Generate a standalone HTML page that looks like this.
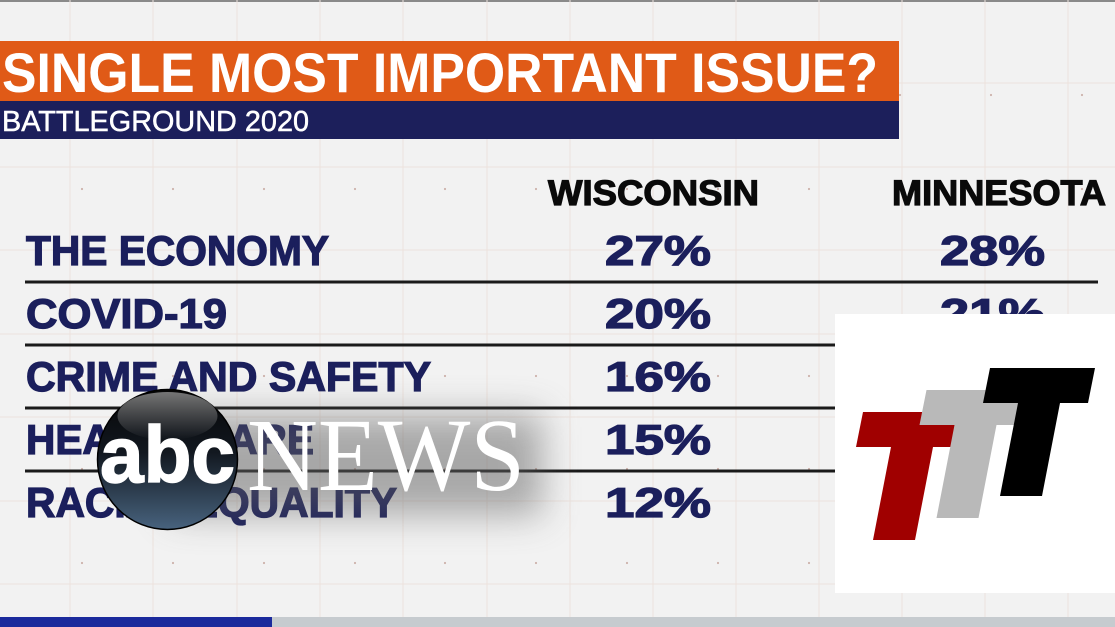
<!DOCTYPE html>
<html>
<head>
<meta charset="utf-8">
<style>
html,body{margin:0;padding:0;background:#f2f2f2;}
svg{display:block;}
</style>
</head>
<body>
<svg width="1115" height="627" viewBox="0 0 1115 627" xmlns="http://www.w3.org/2000/svg">
  <defs>
    <filter id="blur" x="-50%" y="-50%" width="200%" height="200%">
      <feGaussianBlur stdDeviation="18"/>
    </filter>
    <linearGradient id="ball" x1="0" y1="0" x2="0" y2="1">
      <stop offset="0" stop-color="#050505"/>
      <stop offset="0.45" stop-color="#121820"/>
      <stop offset="1" stop-color="#48637e"/>
    </linearGradient>
    <linearGradient id="gloss" x1="0" y1="0" x2="0" y2="1">
      <stop offset="0" stop-color="#ffffff" stop-opacity="0.45"/>
      <stop offset="1" stop-color="#ffffff" stop-opacity="0"/>
    </linearGradient>
  </defs>

  <!-- background -->
  <rect x="0" y="0" width="1115" height="627" fill="#f2f2f2"/>
  <rect x="0" y="0" width="1115" height="2" fill="#8a8a8a"/>

  <!-- grid -->
  <g stroke="#ece2dd" stroke-width="1">
    <line x1="70" y1="0" x2="70" y2="617"/>
    <line x1="153" y1="0" x2="153" y2="617"/>
    <line x1="237" y1="0" x2="237" y2="617"/>
    <line x1="320" y1="0" x2="320" y2="617"/>
    <line x1="403" y1="0" x2="403" y2="617"/>
    <line x1="487" y1="0" x2="487" y2="617"/>
    <line x1="570" y1="0" x2="570" y2="617"/>
    <line x1="653" y1="0" x2="653" y2="617"/>
    <line x1="736" y1="0" x2="736" y2="617"/>
    <line x1="819" y1="0" x2="819" y2="617"/>
    <line x1="902" y1="0" x2="902" y2="617"/>
    <line x1="985" y1="0" x2="985" y2="617"/>
    <line x1="1068" y1="0" x2="1068" y2="617"/>
    <line x1="0" y1="83" x2="1115" y2="83"/>
    <line x1="0" y1="167" x2="1115" y2="167"/>
    <line x1="0" y1="250" x2="1115" y2="250"/>
    <line x1="0" y1="334" x2="1115" y2="334"/>
    <line x1="0" y1="417" x2="1115" y2="417"/>
    <line x1="0" y1="501" x2="1115" y2="501"/>
    <line x1="0" y1="584" x2="1115" y2="584"/>
  </g>
  <g fill="#cdb3ac">
    <circle cx="82" cy="95" r="1.1"/><circle cx="173" cy="95" r="1.1"/><circle cx="264" cy="95" r="1.1"/><circle cx="355" cy="95" r="1.1"/><circle cx="445" cy="95" r="1.1"/><circle cx="536" cy="95" r="1.1"/><circle cx="627" cy="95" r="1.1"/><circle cx="718" cy="95" r="1.1"/><circle cx="809" cy="95" r="1.1"/><circle cx="900" cy="95" r="1.1"/><circle cx="991" cy="95" r="1.1"/><circle cx="1082" cy="95" r="1.1"/>
    <circle cx="82" cy="189" r="1.1"/><circle cx="173" cy="189" r="1.1"/><circle cx="264" cy="189" r="1.1"/><circle cx="355" cy="189" r="1.1"/><circle cx="445" cy="189" r="1.1"/><circle cx="536" cy="189" r="1.1"/><circle cx="627" cy="189" r="1.1"/><circle cx="718" cy="189" r="1.1"/><circle cx="809" cy="189" r="1.1"/><circle cx="900" cy="189" r="1.1"/><circle cx="991" cy="189" r="1.1"/><circle cx="1082" cy="189" r="1.1"/>
    <circle cx="82" cy="282" r="1.1"/><circle cx="173" cy="282" r="1.1"/><circle cx="264" cy="282" r="1.1"/><circle cx="355" cy="282" r="1.1"/><circle cx="445" cy="282" r="1.1"/><circle cx="536" cy="282" r="1.1"/><circle cx="627" cy="282" r="1.1"/><circle cx="718" cy="282" r="1.1"/><circle cx="809" cy="282" r="1.1"/><circle cx="900" cy="282" r="1.1"/><circle cx="991" cy="282" r="1.1"/><circle cx="1082" cy="282" r="1.1"/>
    <circle cx="82" cy="376" r="1.1"/><circle cx="173" cy="376" r="1.1"/><circle cx="264" cy="376" r="1.1"/><circle cx="355" cy="376" r="1.1"/><circle cx="445" cy="376" r="1.1"/><circle cx="536" cy="376" r="1.1"/><circle cx="627" cy="376" r="1.1"/><circle cx="718" cy="376" r="1.1"/><circle cx="809" cy="376" r="1.1"/><circle cx="900" cy="376" r="1.1"/><circle cx="991" cy="376" r="1.1"/><circle cx="1082" cy="376" r="1.1"/>
    <circle cx="82" cy="469" r="1.1"/><circle cx="173" cy="469" r="1.1"/><circle cx="264" cy="469" r="1.1"/><circle cx="355" cy="469" r="1.1"/><circle cx="445" cy="469" r="1.1"/><circle cx="536" cy="469" r="1.1"/><circle cx="627" cy="469" r="1.1"/><circle cx="718" cy="469" r="1.1"/><circle cx="809" cy="469" r="1.1"/><circle cx="900" cy="469" r="1.1"/><circle cx="991" cy="469" r="1.1"/><circle cx="1082" cy="469" r="1.1"/>
    <circle cx="82" cy="563" r="1.1"/><circle cx="173" cy="563" r="1.1"/><circle cx="264" cy="563" r="1.1"/><circle cx="355" cy="563" r="1.1"/><circle cx="445" cy="563" r="1.1"/><circle cx="536" cy="563" r="1.1"/><circle cx="627" cy="563" r="1.1"/><circle cx="718" cy="563" r="1.1"/><circle cx="809" cy="563" r="1.1"/><circle cx="900" cy="563" r="1.1"/><circle cx="991" cy="563" r="1.1"/><circle cx="1082" cy="563" r="1.1"/>
  </g>

  <!-- title bars -->
  <rect x="0" y="41" width="899" height="60" fill="#e05a17"/>
  <rect x="0" y="101" width="899" height="38" fill="#1c1f5b"/>
  <text x="2" y="92" font-family="Liberation Sans, Arial, sans-serif" font-weight="bold" font-size="56" fill="#ffffff" textLength="876" lengthAdjust="spacingAndGlyphs">SINGLE MOST IMPORTANT ISSUE?</text>
  <text x="2" y="131" font-family="Liberation Sans, Arial, sans-serif" font-size="29" fill="#ffffff" stroke="#ffffff" stroke-width="0.5" textLength="307" lengthAdjust="spacingAndGlyphs">BATTLEGROUND 2020</text>

  <!-- column headers -->
  <g font-family="Liberation Sans, Arial, sans-serif" font-weight="bold" font-size="35" fill="#0a0a0a" stroke="#0a0a0a" stroke-width="1.2">
    <text x="548" y="205" textLength="211" lengthAdjust="spacingAndGlyphs">WISCONSIN</text>
    <text x="892" y="205" textLength="214" lengthAdjust="spacingAndGlyphs">MINNESOTA</text>
  </g>

  <!-- rows -->
  <g font-family="Liberation Sans, Arial, sans-serif" font-weight="bold" font-size="42" fill="#1b1f5c" stroke="#1b1f5c" stroke-width="1.3">
    <text x="26" y="265" textLength="303" lengthAdjust="spacingAndGlyphs">THE ECONOMY</text>
    <text x="26" y="328" textLength="201" lengthAdjust="spacingAndGlyphs">COVID-19</text>
    <text x="26" y="391" textLength="405" lengthAdjust="spacingAndGlyphs">CRIME AND SAFETY</text>
    <text x="26" y="454" textLength="288" lengthAdjust="spacingAndGlyphs">HEALTH CARE</text>
    <text x="26" y="517" textLength="371" lengthAdjust="spacingAndGlyphs">RACIAL EQUALITY</text>

    <text x="605" y="265" textLength="106" lengthAdjust="spacingAndGlyphs">27%</text>
    <text x="605" y="328" textLength="106" lengthAdjust="spacingAndGlyphs">20%</text>
    <text x="605" y="391" textLength="106" lengthAdjust="spacingAndGlyphs">16%</text>
    <text x="605" y="454" textLength="106" lengthAdjust="spacingAndGlyphs">15%</text>
    <text x="605" y="517" textLength="106" lengthAdjust="spacingAndGlyphs">12%</text>

    <text x="940" y="265" textLength="105" lengthAdjust="spacingAndGlyphs">28%</text>
    <text x="940" y="328" textLength="105" lengthAdjust="spacingAndGlyphs">21%</text>
  </g>

  <!-- row separators -->
  <g stroke="#1a1a1a" stroke-width="3">
    <line x1="25" y1="282" x2="1098" y2="282"/>
    <line x1="25" y1="345" x2="1098" y2="345"/>
    <line x1="25" y1="408" x2="1098" y2="408"/>
    <line x1="25" y1="471" x2="1098" y2="471"/>
  </g>

  <!-- bottom strip -->
  <rect x="0" y="617" width="1115" height="10" fill="#c6cbcf"/>
  <rect x="0" y="617" width="272" height="10" fill="#1b2a9c"/>

  <!-- ABC news overlay shadow -->
  <rect x="170" y="415" width="372" height="100" fill="#5e5e5e" opacity="0.5" filter="url(#blur)"/>

  <!-- abc circle -->
  <circle cx="167.5" cy="459.5" r="70" fill="url(#ball)" stroke="#000" stroke-width="1.5"/>
  <ellipse cx="167.5" cy="416" rx="50" ry="24" fill="url(#gloss)"/>
  <text x="100" y="482" font-family="Liberation Sans, Arial, sans-serif" font-weight="bold" font-size="80" fill="#ffffff" stroke="#ffffff" stroke-width="1.5" textLength="135" lengthAdjust="spacingAndGlyphs">abc</text>
  <text x="247" y="490" font-family="Liberation Serif, Times New Roman, serif" font-size="104" fill="#ffffff" textLength="278" lengthAdjust="spacingAndGlyphs">NEWS</text>

  <!-- TTT logo box -->
  <rect x="835" y="314" width="280" height="279" fill="#ffffff"/>
  <polygon fill="#a00000" points="863,412 968,412 961,447 933,447 915,540 873,540 891,447 856,447"/>
  <polygon fill="#b9b9b9" points="926.5,390 1031.5,390 1024.5,425 996.5,425 978.5,518 936.5,518 954.5,425 919.5,425"/>
  <polygon fill="#000000" points="990,368 1095,368 1088,403 1060,403 1042,496 1000,496 1018,403 983,403"/>
</svg>
</body>
</html>
